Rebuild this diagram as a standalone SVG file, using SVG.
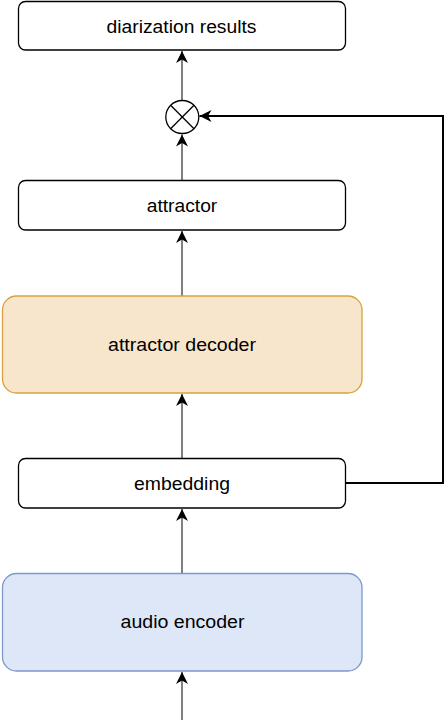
<svg xmlns="http://www.w3.org/2000/svg" width="444" height="720" viewBox="0 0 444 720">
  <defs>
    <style>
      .box { fill: #ffffff; stroke: #000000; stroke-width: 1.3; }
      .dec { fill: #f8e6cc; stroke: #d6a23c; stroke-width: 1.3; }
      .enc { fill: #dde7f8; stroke: #7d98c9; stroke-width: 1.3; }
      .lbl { font-family: "Liberation Sans", Arial, sans-serif; font-size: 17.5px; fill: #000000; text-anchor: middle; }
      .edge { fill: none; stroke: #000000; stroke-width: 1; }
      .edge2 { fill: none; stroke: #000000; stroke-width: 2; }
    </style>
    <marker id="arr" markerUnits="userSpaceOnUse" markerWidth="14" markerHeight="14" refX="13" refY="7" orient="auto">
      <path d="M13,7 L1,1 L4.5,7 L1,13 Z" fill="#000000"/>
    </marker>
  </defs>

  <g id="connectors">
    <line class="edge" x1="182" y1="720" x2="182" y2="672" marker-end="url(#arr)"/>
    <line class="edge" x1="182" y1="573" x2="182" y2="509" marker-end="url(#arr)"/>
    <line class="edge" x1="182" y1="458" x2="182" y2="394" marker-end="url(#arr)"/>
    <line class="edge" x1="182" y1="296" x2="182" y2="231" marker-end="url(#arr)"/>
    <line class="edge" x1="182" y1="180" x2="182" y2="134.5" marker-end="url(#arr)"/>
    <line class="edge" x1="182" y1="100" x2="182" y2="51" marker-end="url(#arr)"/>
    <polyline class="edge2" points="345,483 443,483 443,116 199.5,116" marker-end="url(#arr)"/>
  </g>

  <g id="diarization-results">
    <rect class="box" x="18.5" y="1.5" width="327" height="48.5" rx="7"/>
    <text class="lbl" x="181.5" y="32.5" textLength="150" lengthAdjust="spacingAndGlyphs">diarization results</text>
  </g>

  <g id="multiply">
    <circle cx="182.3" cy="117" r="16.5" fill="#ffffff" stroke="#000000" stroke-width="1.3"/>
    <line x1="170.6" y1="105.3" x2="194" y2="128.7" stroke="#000000" stroke-width="1.3"/>
    <line x1="194" y1="105.3" x2="170.6" y2="128.7" stroke="#000000" stroke-width="1.3"/>
  </g>

  <g id="attractor">
    <rect class="box" x="18.5" y="180.5" width="327" height="49.5" rx="7"/>
    <text class="lbl" x="182" y="212" textLength="70.5" lengthAdjust="spacingAndGlyphs">attractor</text>
  </g>

  <g id="attractor-decoder">
    <rect class="dec" x="2.5" y="296" width="359.5" height="97" rx="14"/>
    <text class="lbl" x="182" y="350.5" textLength="148" lengthAdjust="spacingAndGlyphs">attractor decoder</text>
  </g>

  <g id="embedding">
    <rect class="box" x="18.5" y="458.5" width="327" height="49.5" rx="7"/>
    <text class="lbl" x="182" y="489.5" textLength="96" lengthAdjust="spacingAndGlyphs">embedding</text>
  </g>

  <g id="audio-encoder">
    <rect class="enc" x="2.5" y="573.5" width="359.5" height="97.5" rx="14"/>
    <text class="lbl" x="182.5" y="628" textLength="124" lengthAdjust="spacingAndGlyphs">audio encoder</text>
  </g>
</svg>
